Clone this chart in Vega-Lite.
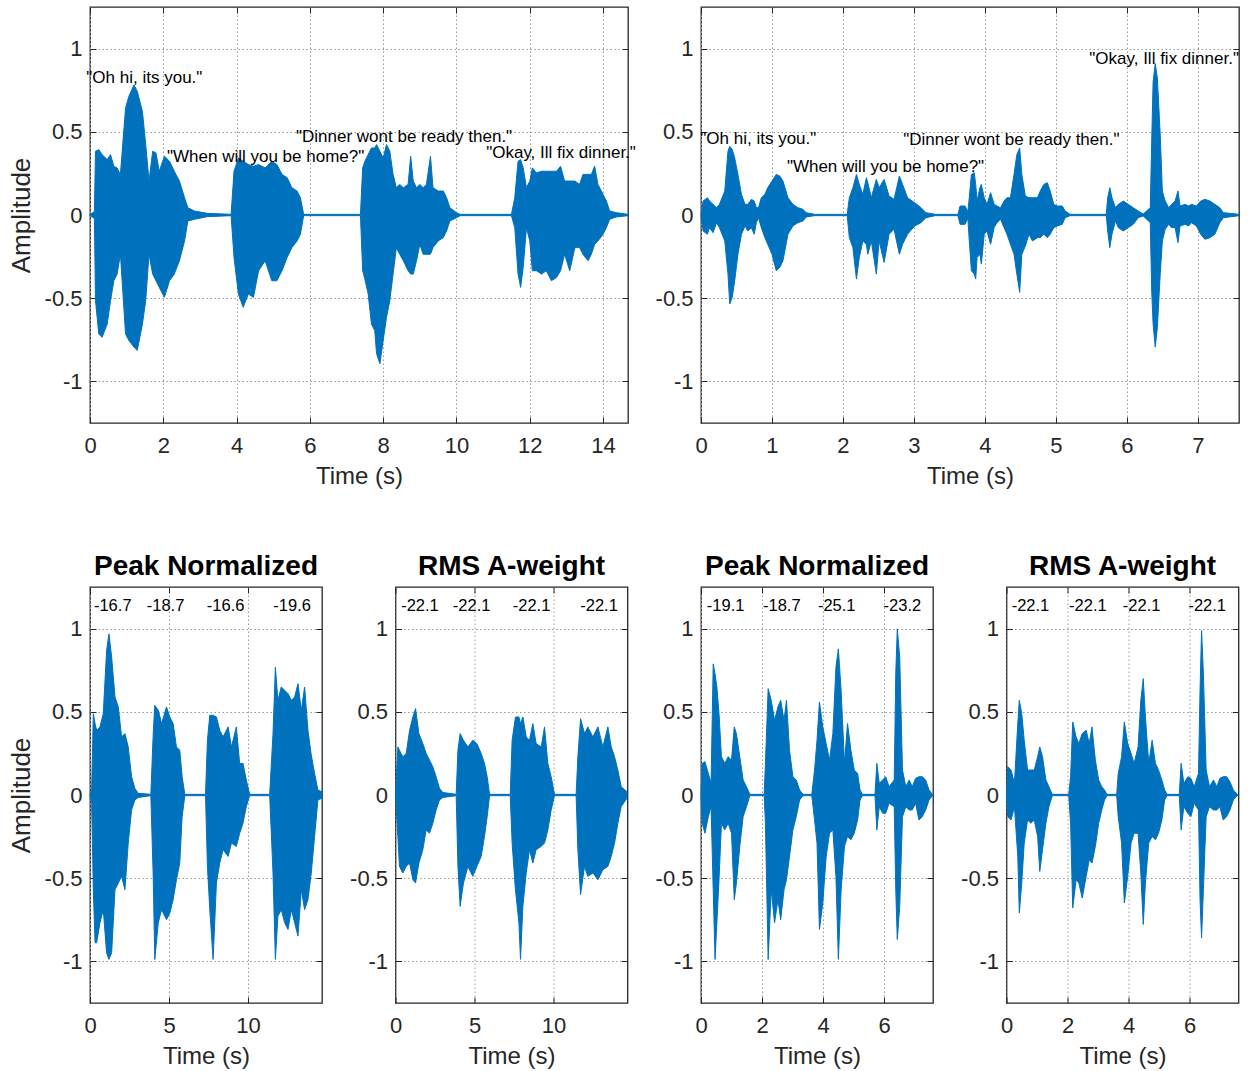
{
  "$schema": "https://vega.github.io/schema/vega-lite/v6.json",
  "autosize": {"type": "none"},
  "padding": {"left": 90, "top": 7, "right": 1159, "bottom": 1064},
  "background": "white",
  "config": {
    "font": "Liberation Sans",
    "view": {"stroke": "#262626", "strokeWidth": 1.3},
    "axis": {
      "domain": false,
      "ticks": true,
      "tickSize": -6,
      "tickColor": "#262626",
      "tickWidth": 1,
      "grid": true,
      "gridColor": "#999999",
      "gridDash": [1.5, 2.5],
      "gridWidth": 1,
      "labelFlush": false,
      "labelFontSize": 22,
      "labelColor": "#262626",
      "labelFont": "Liberation Sans",
      "labelExpr": "datum.value + ''",
      "titleFont": "Liberation Sans",
      "titleFontSize": 24,
      "titleFontWeight": "normal",
      "titleColor": "#262626"
    },
    "axisX": {"labelPadding": 18, "titlePadding": 8, "labelAngle": 0},
    "axisY": {"labelPadding": 14, "titlePadding": 10, "titleFontSize": 26},
    "title": {"fontSize": 28, "fontWeight": "bold", "color": "#000000", "offset": 6, "font": "Liberation Sans"}
  },
  "datasets": {
    "tl": [
      {"t":0,"h":0.004,"l":-0.004},{"t":0.12,"h":0.02,"l":-0.02},{"t":0.15,"h":0.383,"l":-0.515},{"t":0.24,"h":0.393,"l":-0.715},{"t":0.33,"h":0.363,"l":-0.735},{"t":0.47,"h":0.333,"l":-0.655},{"t":0.56,"h":0.363,"l":-0.515},{"t":0.65,"h":0.293,"l":-0.395},{"t":0.74,"h":0.283,"l":-0.355},{"t":0.83,"h":0.244,"l":-0.236},{"t":0.97,"h":0.643,"l":-0.715},{"t":1.06,"h":0.713,"l":-0.754},{"t":1.2,"h":0.782,"l":-0.794},{"t":1.29,"h":0.743,"l":-0.814},{"t":1.43,"h":0.623,"l":-0.655},{"t":1.52,"h":0.423,"l":-0.515},{"t":1.61,"h":0.204,"l":-0.236},{"t":1.71,"h":0.383,"l":-0.355},{"t":1.8,"h":0.373,"l":-0.395},{"t":1.89,"h":0.263,"l":-0.435},{"t":2.03,"h":0.353,"l":-0.495},{"t":2.17,"h":0.323,"l":-0.395},{"t":2.3,"h":0.263,"l":-0.355},{"t":2.44,"h":0.204,"l":-0.275},{"t":2.58,"h":0.104,"l":-0.156},{"t":2.67,"h":0.044,"l":-0.036},{"t":2.85,"h":0.024,"l":-0.026},{"t":3.2,"h":0.01,"l":-0.01},{"t":3.85,"h":0.004,"l":-0.004},
      {"t":3.93,"h":0.263,"l":-0.255},{"t":4.05,"h":0.343,"l":-0.475},{"t":4.18,"h":0.323,"l":-0.555},{"t":4.32,"h":0.303,"l":-0.475},{"t":4.46,"h":0.293,"l":-0.495},{"t":4.6,"h":0.303,"l":-0.335},{"t":4.78,"h":0.283,"l":-0.275},{"t":4.96,"h":0.323,"l":-0.395},{"t":5.1,"h":0.303,"l":-0.395},{"t":5.24,"h":0.244,"l":-0.335},{"t":5.38,"h":0.224,"l":-0.255},{"t":5.51,"h":0.164,"l":-0.196},{"t":5.65,"h":0.144,"l":-0.156},{"t":5.74,"h":0.104,"l":-0.116},{"t":5.83,"h":0.004,"l":-0.004},{"t":7.38,"h":0.004,"l":-0.004},
      {"t":7.44,"h":0.283,"l":-0.335},{"t":7.5,"h":0.323,"l":-0.385},{"t":7.59,"h":0.363,"l":-0.475},{"t":7.68,"h":0.403,"l":-0.655},{"t":7.77,"h":0.403,"l":-0.695},{"t":7.82,"h":0.423,"l":-0.834},{"t":7.91,"h":0.383,"l":-0.894},{"t":8.0,"h":0.343,"l":-0.754},{"t":8.09,"h":0.423,"l":-0.615},{"t":8.18,"h":0.383,"l":-0.515},{"t":8.27,"h":0.244,"l":-0.355},{"t":8.36,"h":0.164,"l":-0.196},{"t":8.45,"h":0.184,"l":-0.236},{"t":8.55,"h":0.164,"l":-0.275},{"t":8.68,"h":0.184,"l":-0.335},{"t":8.75,"h":0.353,"l":-0.355},{"t":8.82,"h":0.204,"l":-0.355},{"t":8.91,"h":0.164,"l":-0.275},{"t":9.0,"h":0.184,"l":-0.176},{"t":9.09,"h":0.164,"l":-0.236},{"t":9.18,"h":0.184,"l":-0.236},{"t":9.29,"h":0.353,"l":-0.236},{"t":9.36,"h":0.164,"l":-0.196},{"t":9.5,"h":0.144,"l":-0.156},{"t":9.64,"h":0.144,"l":-0.136},{"t":9.73,"h":0.104,"l":-0.096},{"t":9.82,"h":0.044,"l":-0.036},{"t":10.0,"h":0.014,"l":-0.016},{"t":10.1,"h":0.004,"l":-0.004},{"t":11.5,"h":0.004,"l":-0.004},
      {"t":11.59,"h":0.104,"l":-0.076},{"t":11.68,"h":0.323,"l":-0.355},{"t":11.75,"h":0.333,"l":-0.435},{"t":11.82,"h":0.283,"l":-0.315},{"t":11.91,"h":0.164,"l":-0.076},{"t":12.0,"h":0.204,"l":-0.156},{"t":12.07,"h":0.283,"l":-0.335},{"t":12.18,"h":0.253,"l":-0.335},{"t":12.32,"h":0.263,"l":-0.355},{"t":12.45,"h":0.263,"l":-0.335},{"t":12.59,"h":0.263,"l":-0.395},{"t":12.73,"h":0.263,"l":-0.375},{"t":12.84,"h":0.293,"l":-0.335},{"t":12.95,"h":0.204,"l":-0.236},{"t":13.09,"h":0.204,"l":-0.335},{"t":13.23,"h":0.204,"l":-0.196},{"t":13.36,"h":0.184,"l":-0.196},{"t":13.45,"h":0.244,"l":-0.236},{"t":13.59,"h":0.244,"l":-0.275},{"t":13.68,"h":0.244,"l":-0.236},{"t":13.77,"h":0.293,"l":-0.176},{"t":13.86,"h":0.184,"l":-0.156},{"t":14.0,"h":0.124,"l":-0.116},{"t":14.09,"h":0.084,"l":-0.076},{"t":14.18,"h":0.024,"l":-0.026},{"t":14.36,"h":0.014,"l":-0.012},{"t":14.68,"h":0.004,"l":-0.004}
    ],
    "tr": [
      {"t":0,"h":0.004,"l":-0.004},{"t":0.03,"h":0.084,"l":-0.096},{"t":0.09,"h":0.104,"l":-0.116},{"t":0.12,"h":0.084,"l":-0.076},{"t":0.17,"h":0.064,"l":-0.106},{"t":0.22,"h":0.044,"l":-0.046},{"t":0.26,"h":0.064,"l":-0.076},{"t":0.335,"h":0.144,"l":-0.156},{"t":0.38,"h":0.383,"l":-0.355},{"t":0.405,"h":0.413,"l":-0.535},{"t":0.44,"h":0.393,"l":-0.495},{"t":0.475,"h":0.343,"l":-0.395},{"t":0.52,"h":0.244,"l":-0.236},{"t":0.57,"h":0.124,"l":-0.116},{"t":0.62,"h":0.064,"l":-0.066},{"t":0.66,"h":0.064,"l":-0.096},{"t":0.71,"h":0.094,"l":-0.076},{"t":0.75,"h":0.084,"l":-0.116},{"t":0.78,"h":0.044,"l":-0.046},{"t":0.81,"h":0.044,"l":-0.016},{"t":0.85,"h":0.104,"l":-0.076},{"t":0.9,"h":0.124,"l":-0.136},{"t":0.94,"h":0.164,"l":-0.176},{"t":1.0,"h":0.204,"l":-0.236},{"t":1.06,"h":0.244,"l":-0.335},{"t":1.11,"h":0.234,"l":-0.315},{"t":1.155,"h":0.204,"l":-0.275},{"t":1.225,"h":0.104,"l":-0.116},{"t":1.295,"h":0.064,"l":-0.066},{"t":1.366,"h":0.044,"l":-0.046},{"t":1.436,"h":0.034,"l":-0.036},{"t":1.483,"h":0.014,"l":-0.012},{"t":1.6,"h":0.004,"l":-0.004},{"t":2.06,"h":0.004,"l":-0.004},
      {"t":2.09,"h":0.104,"l":-0.136},{"t":2.14,"h":0.164,"l":-0.196},{"t":2.19,"h":0.244,"l":-0.385},{"t":2.23,"h":0.184,"l":-0.255},{"t":2.28,"h":0.124,"l":-0.156},{"t":2.33,"h":0.224,"l":-0.176},{"t":2.35,"h":0.194,"l":-0.236},{"t":2.4,"h":0.104,"l":-0.156},{"t":2.47,"h":0.214,"l":-0.355},{"t":2.51,"h":0.164,"l":-0.156},{"t":2.58,"h":0.214,"l":-0.285},{"t":2.65,"h":0.114,"l":-0.116},{"t":2.72,"h":0.094,"l":-0.086},{"t":2.795,"h":0.234,"l":-0.236},{"t":2.84,"h":0.184,"l":-0.176},{"t":2.91,"h":0.104,"l":-0.116},{"t":3.01,"h":0.074,"l":-0.066},{"t":3.1,"h":0.044,"l":-0.046},{"t":3.17,"h":0.014,"l":-0.016},{"t":3.3,"h":0.004,"l":-0.004},{"t":3.62,"h":0.004,"l":-0.004},
      {"t":3.65,"h":0.054,"l":-0.056},{"t":3.72,"h":0.054,"l":-0.056},{"t":3.76,"h":0.02,"l":-0.02},{"t":3.78,"h":0.104,"l":-0.156},{"t":3.81,"h":0.244,"l":-0.335},{"t":3.85,"h":0.254,"l":-0.355},{"t":3.87,"h":0.184,"l":-0.385},{"t":3.89,"h":0.084,"l":-0.255},{"t":3.93,"h":0.164,"l":-0.236},{"t":3.95,"h":0.184,"l":-0.295},{"t":3.99,"h":0.104,"l":-0.116},{"t":4.03,"h":0.064,"l":-0.096},{"t":4.08,"h":0.134,"l":-0.176},{"t":4.13,"h":0.064,"l":-0.076},{"t":4.17,"h":0.054,"l":-0.046},{"t":4.22,"h":0.044,"l":-0.026},{"t":4.27,"h":0.084,"l":-0.076},{"t":4.31,"h":0.104,"l":-0.116},{"t":4.36,"h":0.104,"l":-0.176},{"t":4.41,"h":0.244,"l":-0.236},{"t":4.45,"h":0.363,"l":-0.355},{"t":4.49,"h":0.403,"l":-0.465},{"t":4.52,"h":0.244,"l":-0.236},{"t":4.57,"h":0.114,"l":-0.186},{"t":4.62,"h":0.104,"l":-0.116},{"t":4.67,"h":0.104,"l":-0.156},{"t":4.74,"h":0.104,"l":-0.136},{"t":4.78,"h":0.144,"l":-0.136},{"t":4.83,"h":0.184,"l":-0.116},{"t":4.88,"h":0.194,"l":-0.136},{"t":4.92,"h":0.144,"l":-0.116},{"t":4.97,"h":0.064,"l":-0.076},{"t":5.02,"h":0.054,"l":-0.066},{"t":5.09,"h":0.054,"l":-0.056},{"t":5.13,"h":0.024,"l":-0.016},{"t":5.2,"h":0.004,"l":-0.004},{"t":5.71,"h":0.004,"l":-0.004},
      {"t":5.73,"h":0.104,"l":-0.096},{"t":5.76,"h":0.164,"l":-0.196},{"t":5.79,"h":0.104,"l":-0.116},{"t":5.84,"h":0.044,"l":-0.036},{"t":5.88,"h":0.064,"l":-0.076},{"t":5.95,"h":0.084,"l":-0.096},{"t":6.02,"h":0.064,"l":-0.076},{"t":6.09,"h":0.044,"l":-0.056},{"t":6.16,"h":0.024,"l":-0.016},{"t":6.23,"h":0.006,"l":-0.006},{"t":6.33,"h":0.044,"l":-0.046},{"t":6.35,"h":0.443,"l":-0.455},{"t":6.37,"h":0.802,"l":-0.655},{"t":6.4,"h":0.91,"l":-0.794},{"t":6.43,"h":0.822,"l":-0.675},{"t":6.47,"h":0.483,"l":-0.355},{"t":6.5,"h":0.144,"l":-0.156},{"t":6.54,"h":0.084,"l":-0.086},{"t":6.59,"h":0.044,"l":-0.056},{"t":6.63,"h":0.064,"l":-0.076},{"t":6.68,"h":0.084,"l":-0.076},{"t":6.72,"h":0.144,"l":-0.166},{"t":6.75,"h":0.054,"l":-0.066},{"t":6.82,"h":0.064,"l":-0.056},{"t":6.87,"h":0.054,"l":-0.066},{"t":6.91,"h":0.064,"l":-0.046},{"t":6.98,"h":0.054,"l":-0.066},{"t":7.04,"h":0.084,"l":-0.116},{"t":7.1,"h":0.094,"l":-0.146},{"t":7.17,"h":0.084,"l":-0.136},{"t":7.24,"h":0.064,"l":-0.116},{"t":7.31,"h":0.044,"l":-0.046},{"t":7.36,"h":0.014,"l":-0.016},{"t":7.58,"h":0.004,"l":-0.004}
    ],
    "b1": [
      {"t":0,"h":0.004,"l":-0.004},{"t":0.105,"h":0.03,"l":-0.05},{"t":0.21,"h":0.489,"l":-0.569},{"t":0.32,"h":0.429,"l":-0.888},{"t":0.42,"h":0.389,"l":-0.888},{"t":0.63,"h":0.409,"l":-0.768},{"t":0.84,"h":0.489,"l":-0.689},{"t":1.05,"h":0.868,"l":-0.948},{"t":1.2,"h":0.968,"l":-0.988},{"t":1.37,"h":0.828,"l":-0.948},{"t":1.58,"h":0.589,"l":-0.569},{"t":1.79,"h":0.529,"l":-0.529},{"t":2.0,"h":0.349,"l":-0.489},{"t":2.21,"h":0.369,"l":-0.569},{"t":2.42,"h":0.289,"l":-0.289},{"t":2.63,"h":0.11,"l":-0.09},{"t":2.84,"h":0.04,"l":-0.03},{"t":3.05,"h":0.01,"l":-0.015},{"t":3.85,"h":0.004,"l":-0.004},
      {"t":4.0,"h":0.369,"l":-0.489},{"t":4.1,"h":0.539,"l":-0.988},{"t":4.32,"h":0.509,"l":-0.768},{"t":4.53,"h":0.429,"l":-0.689},{"t":4.84,"h":0.529,"l":-0.749},{"t":5.05,"h":0.469,"l":-0.709},{"t":5.26,"h":0.429,"l":-0.629},{"t":5.47,"h":0.289,"l":-0.509},{"t":5.68,"h":0.269,"l":-0.409},{"t":5.83,"h":0.11,"l":-0.13},{"t":6.0,"h":0.004,"l":-0.004},{"t":7.31,"h":0.004,"l":-0.004},
      {"t":7.43,"h":0.329,"l":-0.429},{"t":7.58,"h":0.479,"l":-0.689},{"t":7.79,"h":0.479,"l":-0.988},{"t":8.0,"h":0.469,"l":-0.529},{"t":8.21,"h":0.389,"l":-0.409},{"t":8.42,"h":0.349,"l":-0.329},{"t":8.74,"h":0.409,"l":-0.369},{"t":8.95,"h":0.289,"l":-0.289},{"t":9.26,"h":0.409,"l":-0.309},{"t":9.47,"h":0.19,"l":-0.23},{"t":9.68,"h":0.19,"l":-0.17},{"t":9.89,"h":0.09,"l":-0.07},{"t":10.1,"h":0.004,"l":-0.004},{"t":11.37,"h":0.004,"l":-0.004},
      {"t":11.58,"h":0.369,"l":-0.469},{"t":11.73,"h":0.768,"l":-0.988},{"t":11.89,"h":0.569,"l":-0.729},{"t":12.1,"h":0.649,"l":-0.689},{"t":12.32,"h":0.629,"l":-0.768},{"t":12.53,"h":0.609,"l":-0.808},{"t":12.74,"h":0.569,"l":-0.689},{"t":12.95,"h":0.589,"l":-0.768},{"t":13.16,"h":0.669,"l":-0.848},{"t":13.37,"h":0.509,"l":-0.569},{"t":13.58,"h":0.649,"l":-0.689},{"t":13.79,"h":0.389,"l":-0.629},{"t":14.0,"h":0.24,"l":-0.469},{"t":14.21,"h":0.13,"l":-0.25},{"t":14.42,"h":0.03,"l":-0.03},{"t":14.67,"h":0.02,"l":-0.02}
    ],
    "b2": [
      {"t":0,"h":0.004,"l":-0.004},{"t":0.15,"h":0.289,"l":-0.25},{"t":0.25,"h":0.269,"l":-0.429},{"t":0.46,"h":0.23,"l":-0.469},{"t":0.68,"h":0.25,"l":-0.429},{"t":0.89,"h":0.389,"l":-0.409},{"t":1.1,"h":0.469,"l":-0.509},{"t":1.27,"h":0.519,"l":-0.529},{"t":1.48,"h":0.369,"l":-0.409},{"t":1.73,"h":0.309,"l":-0.329},{"t":1.94,"h":0.25,"l":-0.21},{"t":2.15,"h":0.21,"l":-0.23},{"t":2.36,"h":0.17,"l":-0.17},{"t":2.57,"h":0.11,"l":-0.09},{"t":2.78,"h":0.04,"l":-0.03},{"t":3.0,"h":0.015,"l":-0.015},{"t":3.84,"h":0.004,"l":-0.004},
      {"t":3.95,"h":0.269,"l":-0.429},{"t":4.09,"h":0.369,"l":-0.669},{"t":4.3,"h":0.329,"l":-0.529},{"t":4.58,"h":0.289,"l":-0.429},{"t":4.89,"h":0.329,"l":-0.489},{"t":5.15,"h":0.309,"l":-0.429},{"t":5.42,"h":0.25,"l":-0.369},{"t":5.63,"h":0.19,"l":-0.25},{"t":5.8,"h":0.11,"l":-0.13},{"t":5.95,"h":0.004,"l":-0.004},{"t":7.26,"h":0.004,"l":-0.004},
      {"t":7.38,"h":0.329,"l":-0.289},{"t":7.59,"h":0.469,"l":-0.569},{"t":7.81,"h":0.469,"l":-0.768},{"t":7.91,"h":0.429,"l":-0.988},{"t":8.06,"h":0.469,"l":-0.669},{"t":8.27,"h":0.349,"l":-0.469},{"t":8.48,"h":0.329,"l":-0.329},{"t":8.69,"h":0.429,"l":-0.409},{"t":8.9,"h":0.309,"l":-0.329},{"t":9.22,"h":0.289,"l":-0.309},{"t":9.43,"h":0.409,"l":-0.289},{"t":9.64,"h":0.19,"l":-0.21},{"t":9.85,"h":0.11,"l":-0.09},{"t":10.06,"h":0.004,"l":-0.004},{"t":11.43,"h":0.004,"l":-0.004},
      {"t":11.54,"h":0.23,"l":-0.329},{"t":11.71,"h":0.459,"l":-0.599},{"t":11.96,"h":0.369,"l":-0.429},{"t":12.17,"h":0.409,"l":-0.489},{"t":12.49,"h":0.349,"l":-0.469},{"t":12.81,"h":0.409,"l":-0.509},{"t":13.12,"h":0.289,"l":-0.449},{"t":13.44,"h":0.409,"l":-0.429},{"t":13.65,"h":0.289,"l":-0.369},{"t":13.86,"h":0.23,"l":-0.289},{"t":14.07,"h":0.15,"l":-0.17},{"t":14.28,"h":0.05,"l":-0.07},{"t":14.64,"h":0.02,"l":-0.02}
    ],
    "b3": [
      {"t":0,"h":0.004,"l":-0.004},{"t":0.04,"h":0.19,"l":-0.17},{"t":0.13,"h":0.2,"l":-0.23},{"t":0.24,"h":0.13,"l":-0.13},{"t":0.33,"h":0.07,"l":-0.07},{"t":0.4,"h":0.788,"l":-0.569},{"t":0.46,"h":0.729,"l":-0.988},{"t":0.52,"h":0.649,"l":-0.768},{"t":0.59,"h":0.489,"l":-0.509},{"t":0.67,"h":0.23,"l":-0.17},{"t":0.78,"h":0.19,"l":-0.21},{"t":0.89,"h":0.23,"l":-0.17},{"t":1.0,"h":0.21,"l":-0.23},{"t":1.09,"h":0.409,"l":-0.629},{"t":1.16,"h":0.369,"l":-0.529},{"t":1.27,"h":0.23,"l":-0.309},{"t":1.38,"h":0.09,"l":-0.13},{"t":1.49,"h":0.05,"l":-0.07},{"t":1.6,"h":0.004,"l":-0.004},{"t":2.07,"h":0.004,"l":-0.004},
      {"t":2.11,"h":0.19,"l":-0.17},{"t":2.2,"h":0.639,"l":-0.988},{"t":2.3,"h":0.569,"l":-0.569},{"t":2.41,"h":0.449,"l":-0.768},{"t":2.52,"h":0.529,"l":-0.629},{"t":2.61,"h":0.569,"l":-0.749},{"t":2.72,"h":0.449,"l":-0.569},{"t":2.8,"h":0.569,"l":-0.509},{"t":2.9,"h":0.269,"l":-0.369},{"t":3.01,"h":0.11,"l":-0.21},{"t":3.12,"h":0.09,"l":-0.13},{"t":3.23,"h":0.03,"l":-0.03},{"t":3.34,"h":0.004,"l":-0.004},{"t":3.63,"h":0.004,"l":-0.004},
      {"t":3.72,"h":0.15,"l":-0.15},{"t":3.8,"h":0.329,"l":-0.289},{"t":3.88,"h":0.559,"l":-0.808},{"t":3.99,"h":0.409,"l":-0.649},{"t":4.1,"h":0.309,"l":-0.369},{"t":4.21,"h":0.21,"l":-0.23},{"t":4.32,"h":0.369,"l":-0.21},{"t":4.42,"h":0.768,"l":-0.489},{"t":4.5,"h":0.878,"l":-0.988},{"t":4.59,"h":0.629,"l":-0.569},{"t":4.7,"h":0.19,"l":-0.309},{"t":4.8,"h":0.429,"l":-0.25},{"t":4.91,"h":0.269,"l":-0.269},{"t":5.02,"h":0.15,"l":-0.23},{"t":5.13,"h":0.13,"l":-0.15},{"t":5.21,"h":0.03,"l":-0.03},{"t":5.29,"h":0.004,"l":-0.004},{"t":5.7,"h":0.004,"l":-0.004},
      {"t":5.76,"h":0.19,"l":-0.21},{"t":5.84,"h":0.07,"l":-0.07},{"t":5.95,"h":0.09,"l":-0.11},{"t":6.05,"h":0.11,"l":-0.11},{"t":6.16,"h":0.05,"l":-0.05},{"t":6.33,"h":0.09,"l":-0.07},{"t":6.38,"h":0.729,"l":-0.569},{"t":6.43,"h":0.998,"l":-0.868},{"t":6.51,"h":0.828,"l":-0.669},{"t":6.6,"h":0.15,"l":-0.13},{"t":6.71,"h":0.05,"l":-0.07},{"t":6.82,"h":0.09,"l":-0.09},{"t":6.92,"h":0.05,"l":-0.09},{"t":7.03,"h":0.1,"l":-0.05},{"t":7.14,"h":0.11,"l":-0.15},{"t":7.25,"h":0.11,"l":-0.13},{"t":7.36,"h":0.09,"l":-0.09},{"t":7.47,"h":0.03,"l":-0.03},{"t":7.58,"h":0.004,"l":-0.004}
    ],
    "b4": [
      {"t":0,"h":0.004,"l":-0.004},{"t":0.04,"h":0.17,"l":-0.13},{"t":0.15,"h":0.15,"l":-0.15},{"t":0.26,"h":0.07,"l":-0.07},{"t":0.37,"h":0.429,"l":-0.369},{"t":0.42,"h":0.569,"l":-0.709},{"t":0.5,"h":0.489,"l":-0.529},{"t":0.58,"h":0.329,"l":-0.289},{"t":0.69,"h":0.15,"l":-0.15},{"t":0.8,"h":0.15,"l":-0.17},{"t":0.91,"h":0.15,"l":-0.15},{"t":1.02,"h":0.23,"l":-0.25},{"t":1.09,"h":0.289,"l":-0.459},{"t":1.18,"h":0.23,"l":-0.329},{"t":1.29,"h":0.09,"l":-0.17},{"t":1.39,"h":0.05,"l":-0.07},{"t":1.5,"h":0.004,"l":-0.004},{"t":2.04,"h":0.004,"l":-0.004},
      {"t":2.1,"h":0.11,"l":-0.17},{"t":2.17,"h":0.439,"l":-0.679},{"t":2.28,"h":0.349,"l":-0.509},{"t":2.37,"h":0.309,"l":-0.529},{"t":2.48,"h":0.369,"l":-0.619},{"t":2.61,"h":0.389,"l":-0.489},{"t":2.71,"h":0.309,"l":-0.389},{"t":2.8,"h":0.409,"l":-0.409},{"t":2.91,"h":0.21,"l":-0.309},{"t":3.02,"h":0.09,"l":-0.17},{"t":3.12,"h":0.05,"l":-0.09},{"t":3.21,"h":0.03,"l":-0.03},{"t":3.29,"h":0.004,"l":-0.004},{"t":3.61,"h":0.004,"l":-0.004},
      {"t":3.66,"h":0.13,"l":-0.13},{"t":3.77,"h":0.23,"l":-0.289},{"t":3.86,"h":0.439,"l":-0.649},{"t":3.97,"h":0.309,"l":-0.489},{"t":4.08,"h":0.25,"l":-0.289},{"t":4.18,"h":0.19,"l":-0.23},{"t":4.31,"h":0.289,"l":-0.23},{"t":4.4,"h":0.569,"l":-0.469},{"t":4.48,"h":0.699,"l":-0.778},{"t":4.55,"h":0.469,"l":-0.529},{"t":4.66,"h":0.19,"l":-0.289},{"t":4.77,"h":0.329,"l":-0.25},{"t":4.88,"h":0.19,"l":-0.269},{"t":4.98,"h":0.15,"l":-0.23},{"t":5.09,"h":0.09,"l":-0.15},{"t":5.18,"h":0.03,"l":-0.03},{"t":5.26,"h":0.004,"l":-0.004},{"t":5.66,"h":0.004,"l":-0.004},
      {"t":5.72,"h":0.19,"l":-0.21},{"t":5.81,"h":0.07,"l":-0.07},{"t":5.94,"h":0.11,"l":-0.11},{"t":6.04,"h":0.1,"l":-0.13},{"t":6.15,"h":0.05,"l":-0.05},{"t":6.29,"h":0.13,"l":-0.09},{"t":6.34,"h":0.629,"l":-0.629},{"t":6.39,"h":0.988,"l":-0.858},{"t":6.45,"h":0.729,"l":-0.569},{"t":6.54,"h":0.15,"l":-0.13},{"t":6.65,"h":0.05,"l":-0.07},{"t":6.78,"h":0.09,"l":-0.09},{"t":6.89,"h":0.05,"l":-0.09},{"t":6.99,"h":0.1,"l":-0.07},{"t":7.1,"h":0.11,"l":-0.15},{"t":7.21,"h":0.11,"l":-0.13},{"t":7.32,"h":0.08,"l":-0.09},{"t":7.43,"h":0.03,"l":-0.03},{"t":7.56,"h":0.004,"l":-0.004}
    ],
    "tlText": [
      {"t":-0.1,"a":0.826,"s":"\"Oh hi, its you.\""},
      {"t":2.1,"a":0.347,"s":"\"When will you be home?\""},
      {"t":5.62,"a":0.467,"s":"\"Dinner wont be ready then.\""},
      {"t":10.81,"a":0.371,"s":"\"Okay, Ill fix dinner.\""}
    ],
    "trText": [
      {"t":-0.01,"a":0.455,"s":"\"Oh hi, its you.\""},
      {"t":1.21,"a":0.287,"s":"\"When will you be home?\""},
      {"t":2.85,"a":0.449,"s":"\"Dinner wont be ready then.\""},
      {"t":5.47,"a":0.94,"s":"\"Okay, Ill fix dinner.\""}
    ],
    "b1Text": [
      {"t":0.25,"a":1.138,"s":"-16.7"},{"t":3.59,"a":1.138,"s":"-18.7"},{"t":7.39,"a":1.138,"s":"-16.6"},{"t":11.6,"a":1.138,"s":"-19.6"}
    ],
    "b2Text": [
      {"t":0.36,"a":1.138,"s":"-22.1"},{"t":3.63,"a":1.138,"s":"-22.1"},{"t":7.42,"a":1.138,"s":"-22.1"},{"t":11.69,"a":1.138,"s":"-22.1"}
    ],
    "b3Text": [
      {"t":0.19,"a":1.138,"s":"-19.1"},{"t":2.03,"a":1.138,"s":"-18.7"},{"t":3.83,"a":1.138,"s":"-25.1"},{"t":5.98,"a":1.138,"s":"-23.2"}
    ],
    "b4Text": [
      {"t":0.17,"a":1.138,"s":"-22.1"},{"t":2.05,"a":1.138,"s":"-22.1"},{"t":3.81,"a":1.138,"s":"-22.1"},{"t":5.96,"a":1.138,"s":"-22.1"}
    ]
  },
  "bounds": "flush",
  "spacing": 580,
  "vconcat": [
    {
      "bounds": "flush",
      "spacing": 73,
      "hconcat": [
        {
          "width": 538, "height": 416,
          "resolve": {"axis": {"x": "independent", "y": "independent"}},
          "layer": [
            {
              "data": {"name": "tl"},
              "mark": {"type": "area", "color": "#0072BD", "stroke": "#0072BD", "strokeWidth": 1, "opacity": 1},
              "encoding": {
                "x": {"field": "t", "type": "quantitative", "scale": {"domain": [0, 14.68], "nice": false, "zero": false}, "axis": {"values": [0, 2, 4, 6, 8, 10, 12, 14], "title": "Time (s)"}},
                "y": {"field": "h", "type": "quantitative", "scale": {"domain": [-1.25, 1.25], "nice": false}, "axis": {"values": [-1, -0.5, 0, 0.5, 1], "title": "Amplitude"}},
                "y2": {"field": "l"}
              }
            },
            {
              "data": {"name": "tlText"},
              "mark": {"type": "text", "align": "left", "baseline": "middle", "fontSize": 17, "color": "#000000"},
              "encoding": {
                "x": {"field": "t", "type": "quantitative", "axis": {"orient": "top", "values": [0, 2, 4, 6, 8, 10, 12, 14], "labels": false, "grid": false, "title": null}},
                "y": {"field": "a", "type": "quantitative", "axis": {"orient": "right", "values": [-1, -0.5, 0, 0.5, 1], "labels": false, "grid": false, "title": null}},
                "text": {"field": "s"}
              }
            }
          ]
        },
        {
          "width": 538, "height": 416,
          "resolve": {"axis": {"x": "independent", "y": "independent"}},
          "layer": [
            {
              "data": {"name": "tr"},
              "mark": {"type": "area", "color": "#0072BD", "stroke": "#0072BD", "strokeWidth": 1, "opacity": 1},
              "encoding": {
                "x": {"field": "t", "type": "quantitative", "scale": {"domain": [0, 7.58], "nice": false, "zero": false}, "axis": {"values": [0, 1, 2, 3, 4, 5, 6, 7], "title": "Time (s)"}},
                "y": {"field": "h", "type": "quantitative", "scale": {"domain": [-1.25, 1.25], "nice": false}, "axis": {"values": [-1, -0.5, 0, 0.5, 1], "title": null}},
                "y2": {"field": "l"}
              }
            },
            {
              "data": {"name": "trText"},
              "mark": {"type": "text", "align": "left", "baseline": "middle", "fontSize": 17, "color": "#000000"},
              "encoding": {
                "x": {"field": "t", "type": "quantitative", "axis": {"orient": "top", "values": [0, 1, 2, 3, 4, 5, 6, 7], "labels": false, "grid": false, "title": null}},
                "y": {"field": "a", "type": "quantitative", "axis": {"orient": "right", "values": [-1, -0.5, 0, 0.5, 1], "labels": false, "grid": false, "title": null}},
                "text": {"field": "s"}
              }
            }
          ]
        }
      ]
    },
    {
      "bounds": "flush",
      "spacing": 73.5,
      "hconcat": [
        {
          "width": 232, "height": 416,
          "title": "Peak Normalized",
          "resolve": {"axis": {"x": "independent", "y": "independent"}},
          "layer": [
            {
              "data": {"name": "b1"},
              "mark": {"type": "area", "color": "#0072BD", "stroke": "#0072BD", "strokeWidth": 1, "opacity": 1},
              "encoding": {
                "x": {"field": "t", "type": "quantitative", "scale": {"domain": [0, 14.68], "nice": false, "zero": false}, "axis": {"values": [0, 5, 10], "title": "Time (s)"}},
                "y": {"field": "h", "type": "quantitative", "scale": {"domain": [-1.25, 1.25], "nice": false}, "axis": {"values": [-1, -0.5, 0, 0.5, 1], "title": "Amplitude"}},
                "y2": {"field": "l"}
              }
            },
            {
              "data": {"name": "b1Text"},
              "mark": {"type": "text", "align": "left", "baseline": "middle", "fontSize": 16.5, "color": "#000000"},
              "encoding": {
                "x": {"field": "t", "type": "quantitative", "axis": {"orient": "top", "values": [0, 5, 10], "labels": false, "grid": false, "title": null}},
                "y": {"field": "a", "type": "quantitative", "axis": {"orient": "right", "values": [-1, -0.5, 0, 0.5, 1], "labels": false, "grid": false, "title": null}},
                "text": {"field": "s"}
              }
            }
          ]
        },
        {
          "width": 232, "height": 416,
          "title": "RMS A-weight",
          "resolve": {"axis": {"x": "independent", "y": "independent"}},
          "layer": [
            {
              "data": {"name": "b2"},
              "mark": {"type": "area", "color": "#0072BD", "stroke": "#0072BD", "strokeWidth": 1, "opacity": 1},
              "encoding": {
                "x": {"field": "t", "type": "quantitative", "scale": {"domain": [0, 14.68], "nice": false, "zero": false}, "axis": {"values": [0, 5, 10], "title": "Time (s)"}},
                "y": {"field": "h", "type": "quantitative", "scale": {"domain": [-1.25, 1.25], "nice": false}, "axis": {"values": [-1, -0.5, 0, 0.5, 1], "title": null}},
                "y2": {"field": "l"}
              }
            },
            {
              "data": {"name": "b2Text"},
              "mark": {"type": "text", "align": "left", "baseline": "middle", "fontSize": 16.5, "color": "#000000"},
              "encoding": {
                "x": {"field": "t", "type": "quantitative", "axis": {"orient": "top", "values": [0, 5, 10], "labels": false, "grid": false, "title": null}},
                "y": {"field": "a", "type": "quantitative", "axis": {"orient": "right", "values": [-1, -0.5, 0, 0.5, 1], "labels": false, "grid": false, "title": null}},
                "text": {"field": "s"}
              }
            }
          ]
        },
        {
          "width": 232, "height": 416,
          "title": "Peak Normalized",
          "resolve": {"axis": {"x": "independent", "y": "independent"}},
          "layer": [
            {
              "data": {"name": "b3"},
              "mark": {"type": "area", "color": "#0072BD", "stroke": "#0072BD", "strokeWidth": 1, "opacity": 1},
              "encoding": {
                "x": {"field": "t", "type": "quantitative", "scale": {"domain": [0, 7.6], "nice": false, "zero": false}, "axis": {"values": [0, 2, 4, 6], "title": "Time (s)"}},
                "y": {"field": "h", "type": "quantitative", "scale": {"domain": [-1.25, 1.25], "nice": false}, "axis": {"values": [-1, -0.5, 0, 0.5, 1], "title": null}},
                "y2": {"field": "l"}
              }
            },
            {
              "data": {"name": "b3Text"},
              "mark": {"type": "text", "align": "left", "baseline": "middle", "fontSize": 16.5, "color": "#000000"},
              "encoding": {
                "x": {"field": "t", "type": "quantitative", "axis": {"orient": "top", "values": [0, 2, 4, 6], "labels": false, "grid": false, "title": null}},
                "y": {"field": "a", "type": "quantitative", "axis": {"orient": "right", "values": [-1, -0.5, 0, 0.5, 1], "labels": false, "grid": false, "title": null}},
                "text": {"field": "s"}
              }
            }
          ]
        },
        {
          "width": 232, "height": 416,
          "title": "RMS A-weight",
          "resolve": {"axis": {"x": "independent", "y": "independent"}},
          "layer": [
            {
              "data": {"name": "b4"},
              "mark": {"type": "area", "color": "#0072BD", "stroke": "#0072BD", "strokeWidth": 1, "opacity": 1},
              "encoding": {
                "x": {"field": "t", "type": "quantitative", "scale": {"domain": [0, 7.6], "nice": false, "zero": false}, "axis": {"values": [0, 2, 4, 6], "title": "Time (s)"}},
                "y": {"field": "h", "type": "quantitative", "scale": {"domain": [-1.25, 1.25], "nice": false}, "axis": {"values": [-1, -0.5, 0, 0.5, 1], "title": null}},
                "y2": {"field": "l"}
              }
            },
            {
              "data": {"name": "b4Text"},
              "mark": {"type": "text", "align": "left", "baseline": "middle", "fontSize": 16.5, "color": "#000000"},
              "encoding": {
                "x": {"field": "t", "type": "quantitative", "axis": {"orient": "top", "values": [0, 2, 4, 6], "labels": false, "grid": false, "title": null}},
                "y": {"field": "a", "type": "quantitative", "axis": {"orient": "right", "values": [-1, -0.5, 0, 0.5, 1], "labels": false, "grid": false, "title": null}},
                "text": {"field": "s"}
              }
            }
          ]
        }
      ]
    }
  ]
}
